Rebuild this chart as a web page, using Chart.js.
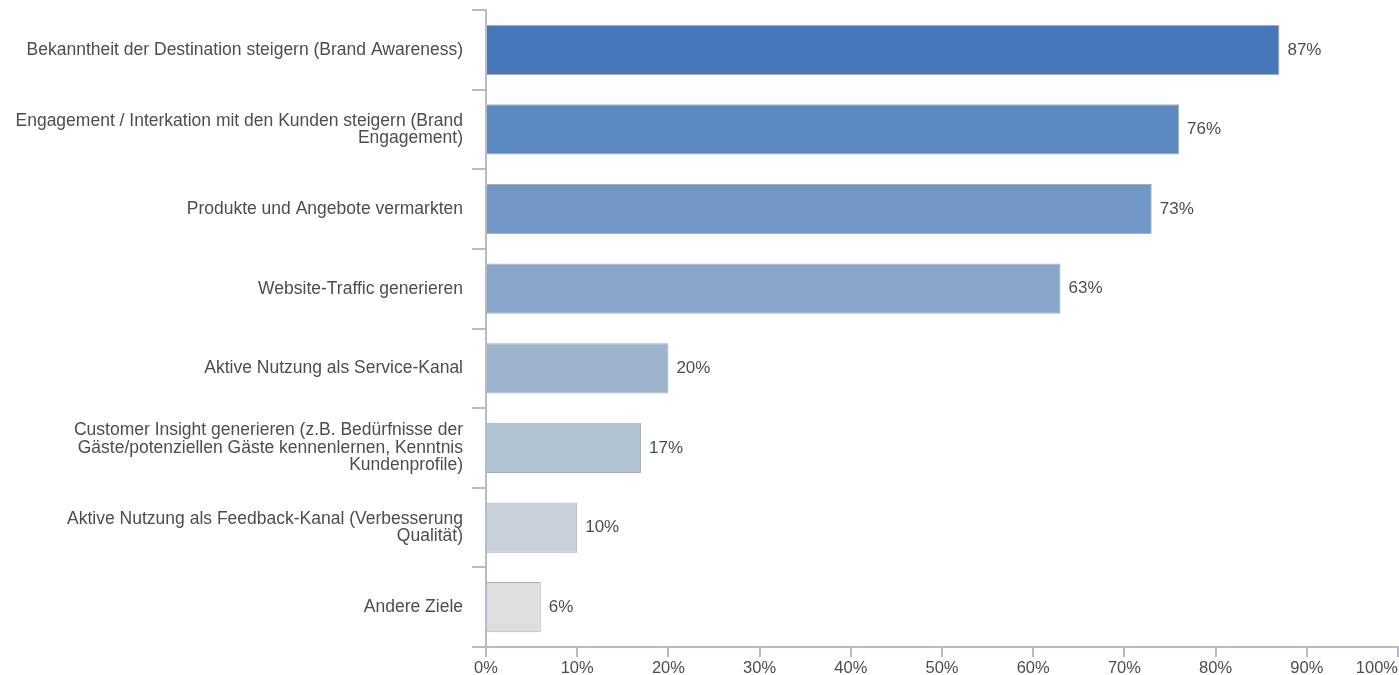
<!DOCTYPE html>
<html lang="de">
<head>
    <meta charset="UTF-8">
    <title>Ziele der Social-Media-Aktivitäten</title>
    <script src="https://cdn.jsdelivr.net/npm/chart.js"></script>
    <style>
        html, body {
            margin: 0;
            padding: 0;
            background: #fff;
            overflow: hidden;
        }
        .chart-box {
            position: relative;
            width: 1399px;
            height: 675px;
        }
    </style>
</head>
<body>
    <div class="chart-box">
        <canvas id="goalsChart"></canvas>
    </div>

    <script>
        // Ziele (multi-line labels as on the axis)
        const goals = [
            ['Bekanntheit der Destination steigern (Brand Awareness)'],
            ['Engagement / Interkation mit den Kunden steigern (Brand', 'Engagement)'],
            ['Produkte und Angebote vermarkten'],
            ['Website-Traffic generieren'],
            ['Aktive Nutzung als Service-Kanal'],
            ['Customer Insight generieren (z.B. Bedürfnisse der', 'Gäste/potenziellen Gäste kennenlernen, Kenntnis', 'Kundenprofile)'],
            ['Aktive Nutzung als Feedback-Kanal (Verbesserung', 'Qualität)'],
            ['Andere Ziele']
        ];
        const shares = [87, 76, 73, 63, 20, 17, 10, 6];
        const barColors = ['#4577BA', '#5A88C0', '#7097C6', '#87A6CA', '#9DB3CE', '#B2C3D4', '#C8D0DA', '#DEDEDE'];
        const xTicks = [0, 10, 20, 30, 40, 50, 60, 70, 80, 90, 100];

        const FONT = '"Liberation Sans", Arial, sans-serif';
        const TEXT = '#4d4d4d';
        const AXIS = '#B4BCCB';

        // percent labels at the end of every bar
        const valueLabels = {
            id: 'valueLabels',
            afterDatasetsDraw(chart) {
                const ctx = chart.ctx;
                const meta = chart.getDatasetMeta(0);
                ctx.save();
                ctx.font = '17px ' + FONT;
                ctx.fillStyle = TEXT;
                ctx.textAlign = 'left';
                ctx.textBaseline = 'middle';
                meta.data.forEach((bar, i) => {
                    ctx.fillText(shares[i] + '%', bar.x + 8, bar.y);
                });
                ctx.restore();
            }
        };

        // x tick labels: centred, the last one kept inside the canvas
        const xLabels = {
            id: 'xLabels',
            afterDraw(chart) {
                const ctx = chart.ctx;
                const scale = chart.scales.x;
                ctx.save();
                ctx.font = '16.5px ' + FONT;
                ctx.fillStyle = TEXT;
                ctx.textBaseline = 'middle';
                xTicks.forEach((v, i) => {
                    const px = scale.getPixelForValue(v);
                    const last = i === xTicks.length - 1;
                    ctx.textAlign = last ? 'right' : 'center';
                    ctx.fillText(v + '%', last ? chart.width - 1 : px, scale.bottom - 7);
                });
                ctx.restore();
            }
        };

        new Chart(document.getElementById('goalsChart'), {
            type: 'bar',
            data: {
                labels: goals,
                datasets: [{
                    data: shares,
                    backgroundColor: barColors,
                    borderColor: '#A9AEB5',
                    borderWidth: 1,
                    categoryPercentage: 1,
                    barPercentage: 0.63
                }]
            },
            options: {
                indexAxis: 'y',
                responsive: true,
                maintainAspectRatio: false,
                animation: false,
                layout: { padding: { top: 10, right: 1, left: 0, bottom: 0 } },
                plugins: {
                    legend: { display: false },
                    tooltip: { enabled: false }
                },
                scales: {
                    x: {
                        min: 0,
                        max: 100,
                        afterBuildTicks: (scale) => {
                            scale.ticks = xTicks.map(v => ({ value: v }));
                        },
                        afterFit: (scale) => { scale.height = 28; },
                        border: { color: AXIS, width: 2 },
                        grid: { drawOnChartArea: false, color: AXIS, lineWidth: 2, tickLength: 10 },
                        ticks: { display: false }
                    },
                    y: {
                        afterFit: (scale) => {
                            scale.width = 486;
                            scale.paddingTop = 0;
                            scale.paddingBottom = 0;
                        },
                        border: { color: AXIS, width: 2 },
                        grid: { drawOnChartArea: false, color: AXIS, lineWidth: 2, tickLength: 14, offset: true },
                        ticks: {
                            color: TEXT,
                            padding: 9,
                            font: { family: FONT, size: 17.5, lineHeight: 1 }
                        }
                    }
                }
            },
            plugins: [valueLabels, xLabels]
        });
    </script>
</body>
</html>
